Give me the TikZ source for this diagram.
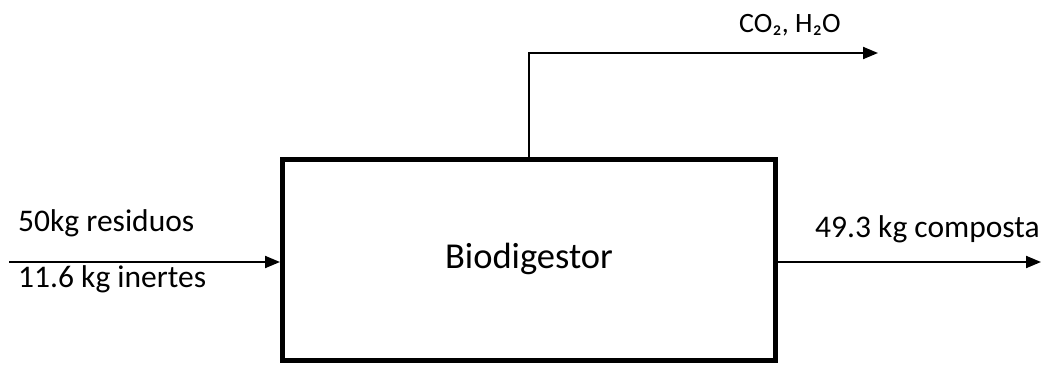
\documentclass[tikz,border=0pt]{standalone}
\usepackage{fontspec}
\setmainfont{Carlito}
\usetikzlibrary{arrows.meta}
\tikzset{
  flow/.style={line width=2pt, -{Triangle[length=15pt,width=12pt]}},
  unitbox/.style={draw, line width=5pt, minimum width=493pt, minimum height=201pt, inner sep=0pt},
  lbl/.style={inner sep=0pt, anchor=base west, font=\fontsize{31.5}{36}\selectfont},
}
\begin{document}
\begin{tikzpicture}[x=1pt, y=-1pt]
  \useasboundingbox (0,0) rectangle (1048,364);
  % process unit
  \node[unitbox] (bio) at (529,260) {};
  \node[inner sep=0pt, anchor=base, font=\fontsize{36.5}{40}\selectfont] (biolbl) at (529,268) {Biodigestor};
  % stream end points
  \coordinate (feed) at (9,262);
  \coordinate (prod) at (1041,262);
  \coordinate (gas) at (878,53);
  % streams
  \draw[flow] (feed) -- (feed -| bio.west);
  \draw[flow] (bio.east |- prod) -- (prod);
  \draw[flow] (bio.north) |- (gas);
  % stream labels
  \node[lbl] (res) at (18,231) {50kg residuos};
  \node[lbl] (inert) at (18,287) {11.6 kg inertes};
  \node[lbl] (comp) at (815,237) {49.3 kg composta};
  \node[lbl, font=\fontsize{28}{32}\selectfont] (gaslbl) at (739,32) {CO₂, H₂O};
\end{tikzpicture}
\end{document}
